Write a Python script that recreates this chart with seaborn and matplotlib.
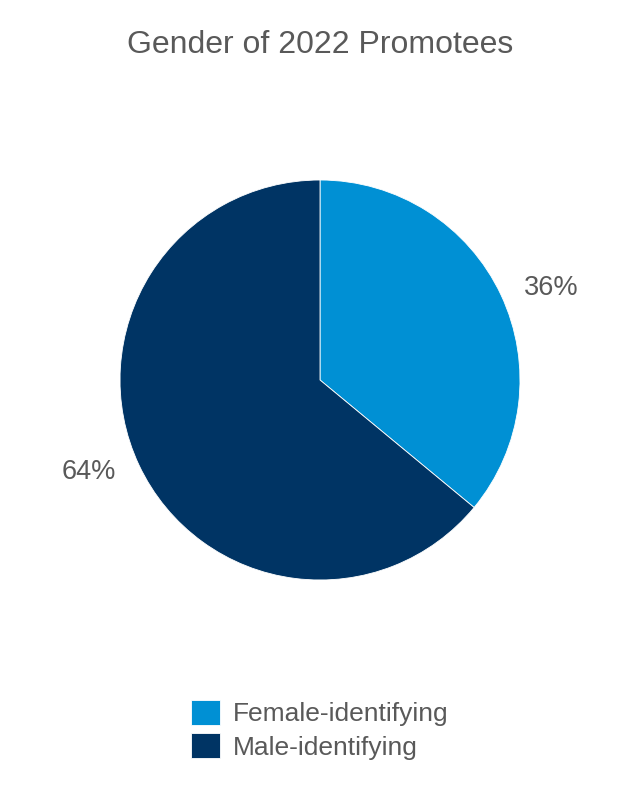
import matplotlib
matplotlib.use('Agg')
import matplotlib.pyplot as plt
import numpy as np
import seaborn as sns

sns.set_theme(style='white')
plt.rcParams['font.family'] = ['Liberation Sans', 'DejaVu Sans']

genders = ['Female-identifying', 'Male-identifying']
shares = [36, 64]
colors = ['#0090d4', '#003464']
grey = '#595959'

fig = plt.figure(figsize=(6.4, 8), dpi=100)
ax = fig.add_axes([0.1875, 0.275, 0.625, 0.5])
wedges, texts, autotexts = ax.pie(
    shares, colors=colors, startangle=90, counterclock=False,
    autopct='%d%%', pctdistance=1.245,
    wedgeprops=dict(edgecolor='white', linewidth=0.6),
    textprops=dict(color=grey, fontsize=19.5))
# nudge the percent labels a little clockwise, like the original
for w, t in zip(wedges, autotexts):
    ang = np.deg2rad((w.theta1 + w.theta2) / 2 - 3.5)
    t.set_position((1.245 * np.cos(ang), 1.245 * np.sin(ang)))
ax.set_xlim(-1, 1)
ax.set_ylim(-1, 1)
ax.set_aspect('equal')

fig.text(0.5, 0.944, 'Gender of 2022 Promotees', ha='center', va='center',
         color=grey, fontsize=23)

leg = fig.legend(wedges, genders, loc='center', bbox_to_anchor=(0.5, 0.088),
                 frameon=False, fontsize=19, labelcolor=grey,
                 handlelength=1.1, handleheight=1.1, handletextpad=0.5,
                 labelspacing=0.25)

fig.savefig('out.png', dpi=100)
